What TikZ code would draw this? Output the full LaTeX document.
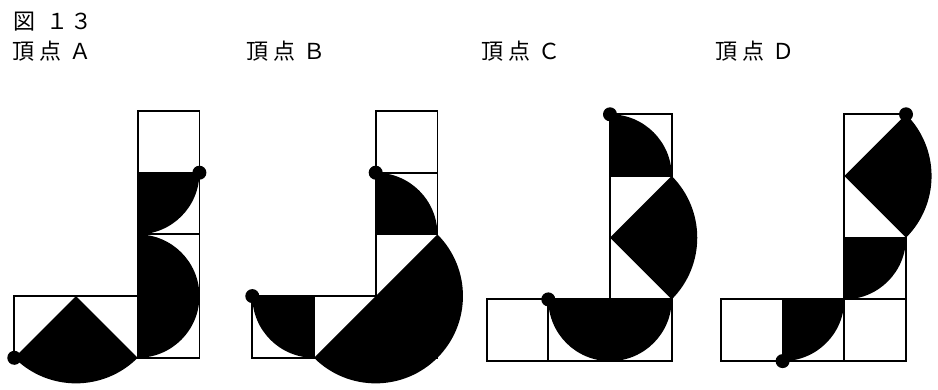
\documentclass[tikz,border=0pt]{standalone}
\usepackage{fontspec}
\newfontfamily\jp{Noto Sans CJK JP}
\tikzset{
  cell/.style={draw=black, line width=1.8pt},
  blk/.style={fill=black},
  vdot/.style={circle, fill=black, inner sep=0pt, minimum size=14pt},
  lbl/.style={anchor=west, inner sep=0pt, font=\jp\fontsize{22}{22}\selectfont},
  pics/lgrid/.style={code={
    \draw[cell] (0,0) rectangle (1,-4);
    \draw[cell] (0,-1) -- (1,-1) (0,-2) -- (1,-2) (0,-3) -- (1,-3);
    \draw[cell] (-2,-3) rectangle (0,-4);
    \draw[cell] (-1,-3) -- (-1,-4);
  }}
}
\def\rs{61.7pt}
\def\rd{87.26pt}
\begin{document}
\begin{tikzpicture}[x=1pt,y=1pt]
\useasboundingbox (0,0) rectangle (938,-390);

% labels
\node[lbl] (title) at (13,-21.5) {図\hspace{11pt}１\hspace{2pt}３};
\node[lbl] (tA) at (12.5,-51) {頂\hspace{4.5pt}点\hspace{8pt}Ａ};
\node[lbl] (tB) at (246.5,-51) {頂\hspace{4.5pt}点\hspace{8pt}Ｂ};
\node[lbl] (tC) at (481.5,-51) {頂\hspace{4.5pt}点\hspace{8pt}Ｃ};
\node[lbl] (tD) at (715.5,-51) {頂\hspace{4.5pt}点\hspace{8pt}Ｄ};

% Figure A
\begin{scope}[shift={(137.7pt,-111pt)}, x=61.7pt, y=61.7pt]
  \fill[blk] (0,-1) -- (1,-1) arc[start angle=0, end angle=-90, radius=\rs] -- cycle;
  \fill[blk] (0,-2) arc[start angle=90, end angle=-90, radius=\rs] -- cycle;
  \fill[blk] (-1,-3) -- (0,-4) arc[start angle=-45, end angle=-135, radius=\rd] -- cycle;
  \pic {lgrid};
  \node[vdot] (A1) at (1,-1) {};
  \node[vdot] (A2) at (-2,-4) {};
\end{scope}

% Figure B
\begin{scope}[shift={(375.7pt,-111pt)}, x=61.7pt, y=61.7pt]
  \fill[blk] (0,-2) -- (0,-1) arc[start angle=90, end angle=0, radius=\rs] -- cycle;
  \fill[blk] (1,-2) arc[start angle=45, end angle=-135, radius=\rd] -- cycle;
  \fill[blk] (-1,-3) -- (-2,-3) arc[start angle=180, end angle=270, radius=\rs] -- cycle;
  \pic {lgrid};
  \node[vdot] (B1) at (0,-1) {};
  \node[vdot] (B2) at (-2,-3) {};
\end{scope}

% Figure C
\begin{scope}[shift={(610pt,-114.3pt)}, x=61.7pt, y=61.7pt]
  \fill[blk] (0,-1) -- (0,0) arc[start angle=90, end angle=0, radius=\rs] -- cycle;
  \fill[blk] (0,-2) -- (1,-1) arc[start angle=45, end angle=-45, radius=\rd] -- cycle;
  \fill[blk] (-1,-3) arc[start angle=180, end angle=360, radius=\rs] -- cycle;
  \pic {lgrid};
  \node[vdot] (C1) at (0,0) {};
  \node[vdot] (C2) at (-1,-3) {};
\end{scope}

% Figure D
\begin{scope}[shift={(844.3pt,-114.3pt)}, x=61.7pt, y=61.7pt]
  \fill[blk] (0,-1) -- (1,0) arc[start angle=45, end angle=-45, radius=\rd] -- cycle;
  \fill[blk] (0,-2) -- (1,-2) arc[start angle=0, end angle=-90, radius=\rs] -- cycle;
  \fill[blk] (-1,-3) -- (0,-3) arc[start angle=0, end angle=-90, radius=\rs] -- cycle;
  \pic {lgrid};
  \node[vdot] (D1) at (1,0) {};
  \node[vdot] (D2) at (-1,-4) {};
\end{scope}
\end{tikzpicture}
\end{document}
